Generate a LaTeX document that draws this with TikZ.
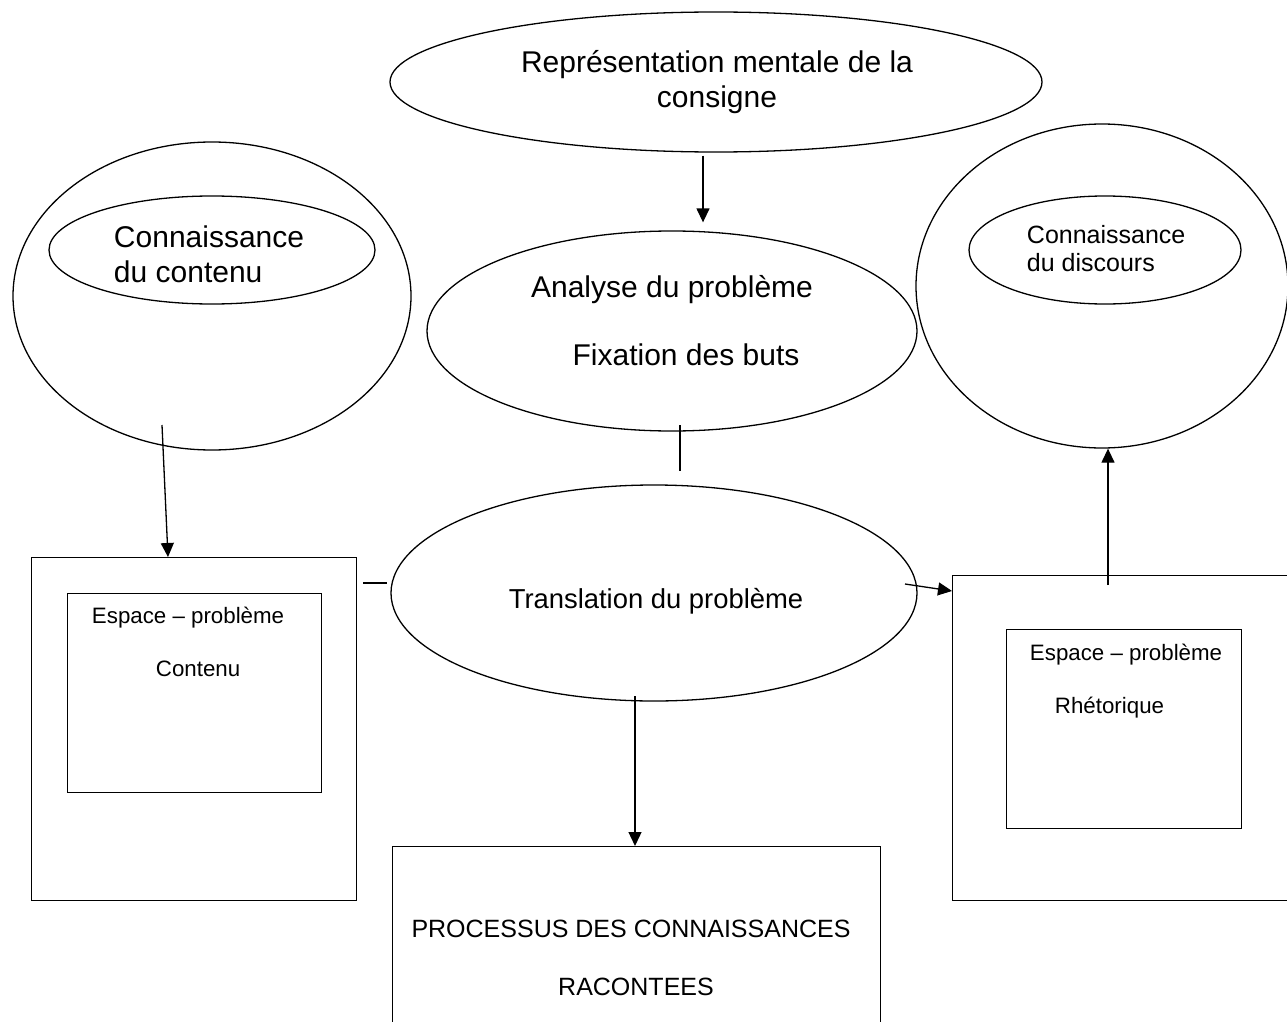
\documentclass[tikz,border=0pt]{standalone}
\usepackage{fontspec}
\setmainfont{Liberation Sans}
\usetikzlibrary{shapes.geometric,arrows.meta}

\begin{document}
\begin{tikzpicture}[x=1pt, y=-1pt, line width=1.3pt,
  oval/.style={draw, ellipse, inner sep=0pt},
  box/.style={draw, rectangle, inner sep=0pt, anchor=north west},
  big/.style={font=\fontsize{30}{36}\selectfont},
  mid/.style={font=\fontsize{25}{30}\selectfont},
  small/.style={font=\fontsize{22.3}{27}\selectfont},
  arr/.style={-{Triangle[length=14pt,width=13pt]}}]
  \useasboundingbox (0,0) rectangle (1287,1022);

  % ellipses
  \node[oval, minimum width=652pt, minimum height=140pt] (rep) at (716,82) {};
  \node[oval, minimum width=398pt, minimum height=308pt] (lcirc) at (212,296) {};
  \node[oval, minimum width=326pt, minimum height=108pt] (lin) at (212,250) {};
  \node[oval, minimum width=490pt, minimum height=200pt] (ana) at (672,331) {};
  \node[oval, minimum width=372pt, minimum height=324pt] (rcirc) at (1102,286) {};
  \node[oval, minimum width=272pt, minimum height=108pt] (rin) at (1105,250) {};
  \node[oval, minimum width=526pt, minimum height=216pt] (trans) at (654,593) {};

  % boxes
  \node[box, minimum width=325pt, minimum height=343pt] (lbox) at (31,557) {};
  \node[box, minimum width=254pt, minimum height=199pt] (lspace) at (67,593) {};
  \node[box, minimum width=400pt, minimum height=325pt] (rbox) at (952,575) {};
  \node[box, minimum width=235pt, minimum height=199pt] (rspace) at (1006,629) {};
  \node[box, minimum width=488pt, minimum height=250pt] (proc) at (392,846) {};

  % texts
  \node[big, anchor=base] (repA) at (717,73) {Représentation mentale de la};
  \node[big, anchor=base] (repB) at (717,108) {consigne};
  \node[big, anchor=base west] (linA) at (110,247) {Connaissance};
  \node[big, anchor=base west] (linB) at (110,282) {du contenu};
  \node[big, anchor=base] (anaA) at (672,297) {Analyse du problème};
  \node[big, anchor=base] (anaB) at (686,365) {Fixation des buts};
  \node[mid, anchor=base west] (rinA) at (1023,243) {Connaissance};
  \node[mid, anchor=base west] (rinB) at (1023,271) {du discours};
  \node[font=\fontsize{27.4}{33}\selectfont, anchor=base] (transA) at (656,608) {Translation du problème};
  \node[small, anchor=base west] (lspaceA) at (88,623) {Espace – problème};
  \node[small, anchor=base west] (lspaceB) at (152,676) {Contenu};
  \node[small, anchor=base west] (rspaceA) at (1026,660) {Espace – problème};
  \node[small, anchor=base west] (rspaceB) at (1051,713) {Rhétorique};
  \node[mid, anchor=base] (procA) at (631,937) {PROCESSUS DES CONNAISSANCES};
  \node[mid, anchor=base] (procB) at (636,995) {RACONTEES};

  % free ends
  \coordinate (lcircEnd) at (162,425);
  \coordinate (anaEnd) at (680,425);
  \coordinate (transTop) at (680,471);
  \coordinate (lboxEnd) at (363,583);
  \coordinate (transLeft) at (387,583);
  \coordinate (transRight) at (905,584);
  \coordinate (transBot) at (635,696);

  % connectors
  \draw[arr] ([xshift=-13pt,yshift=-3pt]rep.south) -- ([xshift=31pt,yshift=8pt]ana.north);
  \draw[arr] (lcircEnd) -- ([xshift=137pt]lbox.north west);
  \draw (anaEnd) -- (transTop);
  \draw (lboxEnd) -- (transLeft);
  \draw[arr] (transRight) -- ([yshift=-16pt]rbox.north west);
  \draw[arr] ([xshift=156pt,yshift=-10pt]rbox.north west) -- ([xshift=6pt]rcirc.south);
  \draw[arr] (transBot) -- ([xshift=243pt]proc.north west);
\end{tikzpicture}
\end{document}
